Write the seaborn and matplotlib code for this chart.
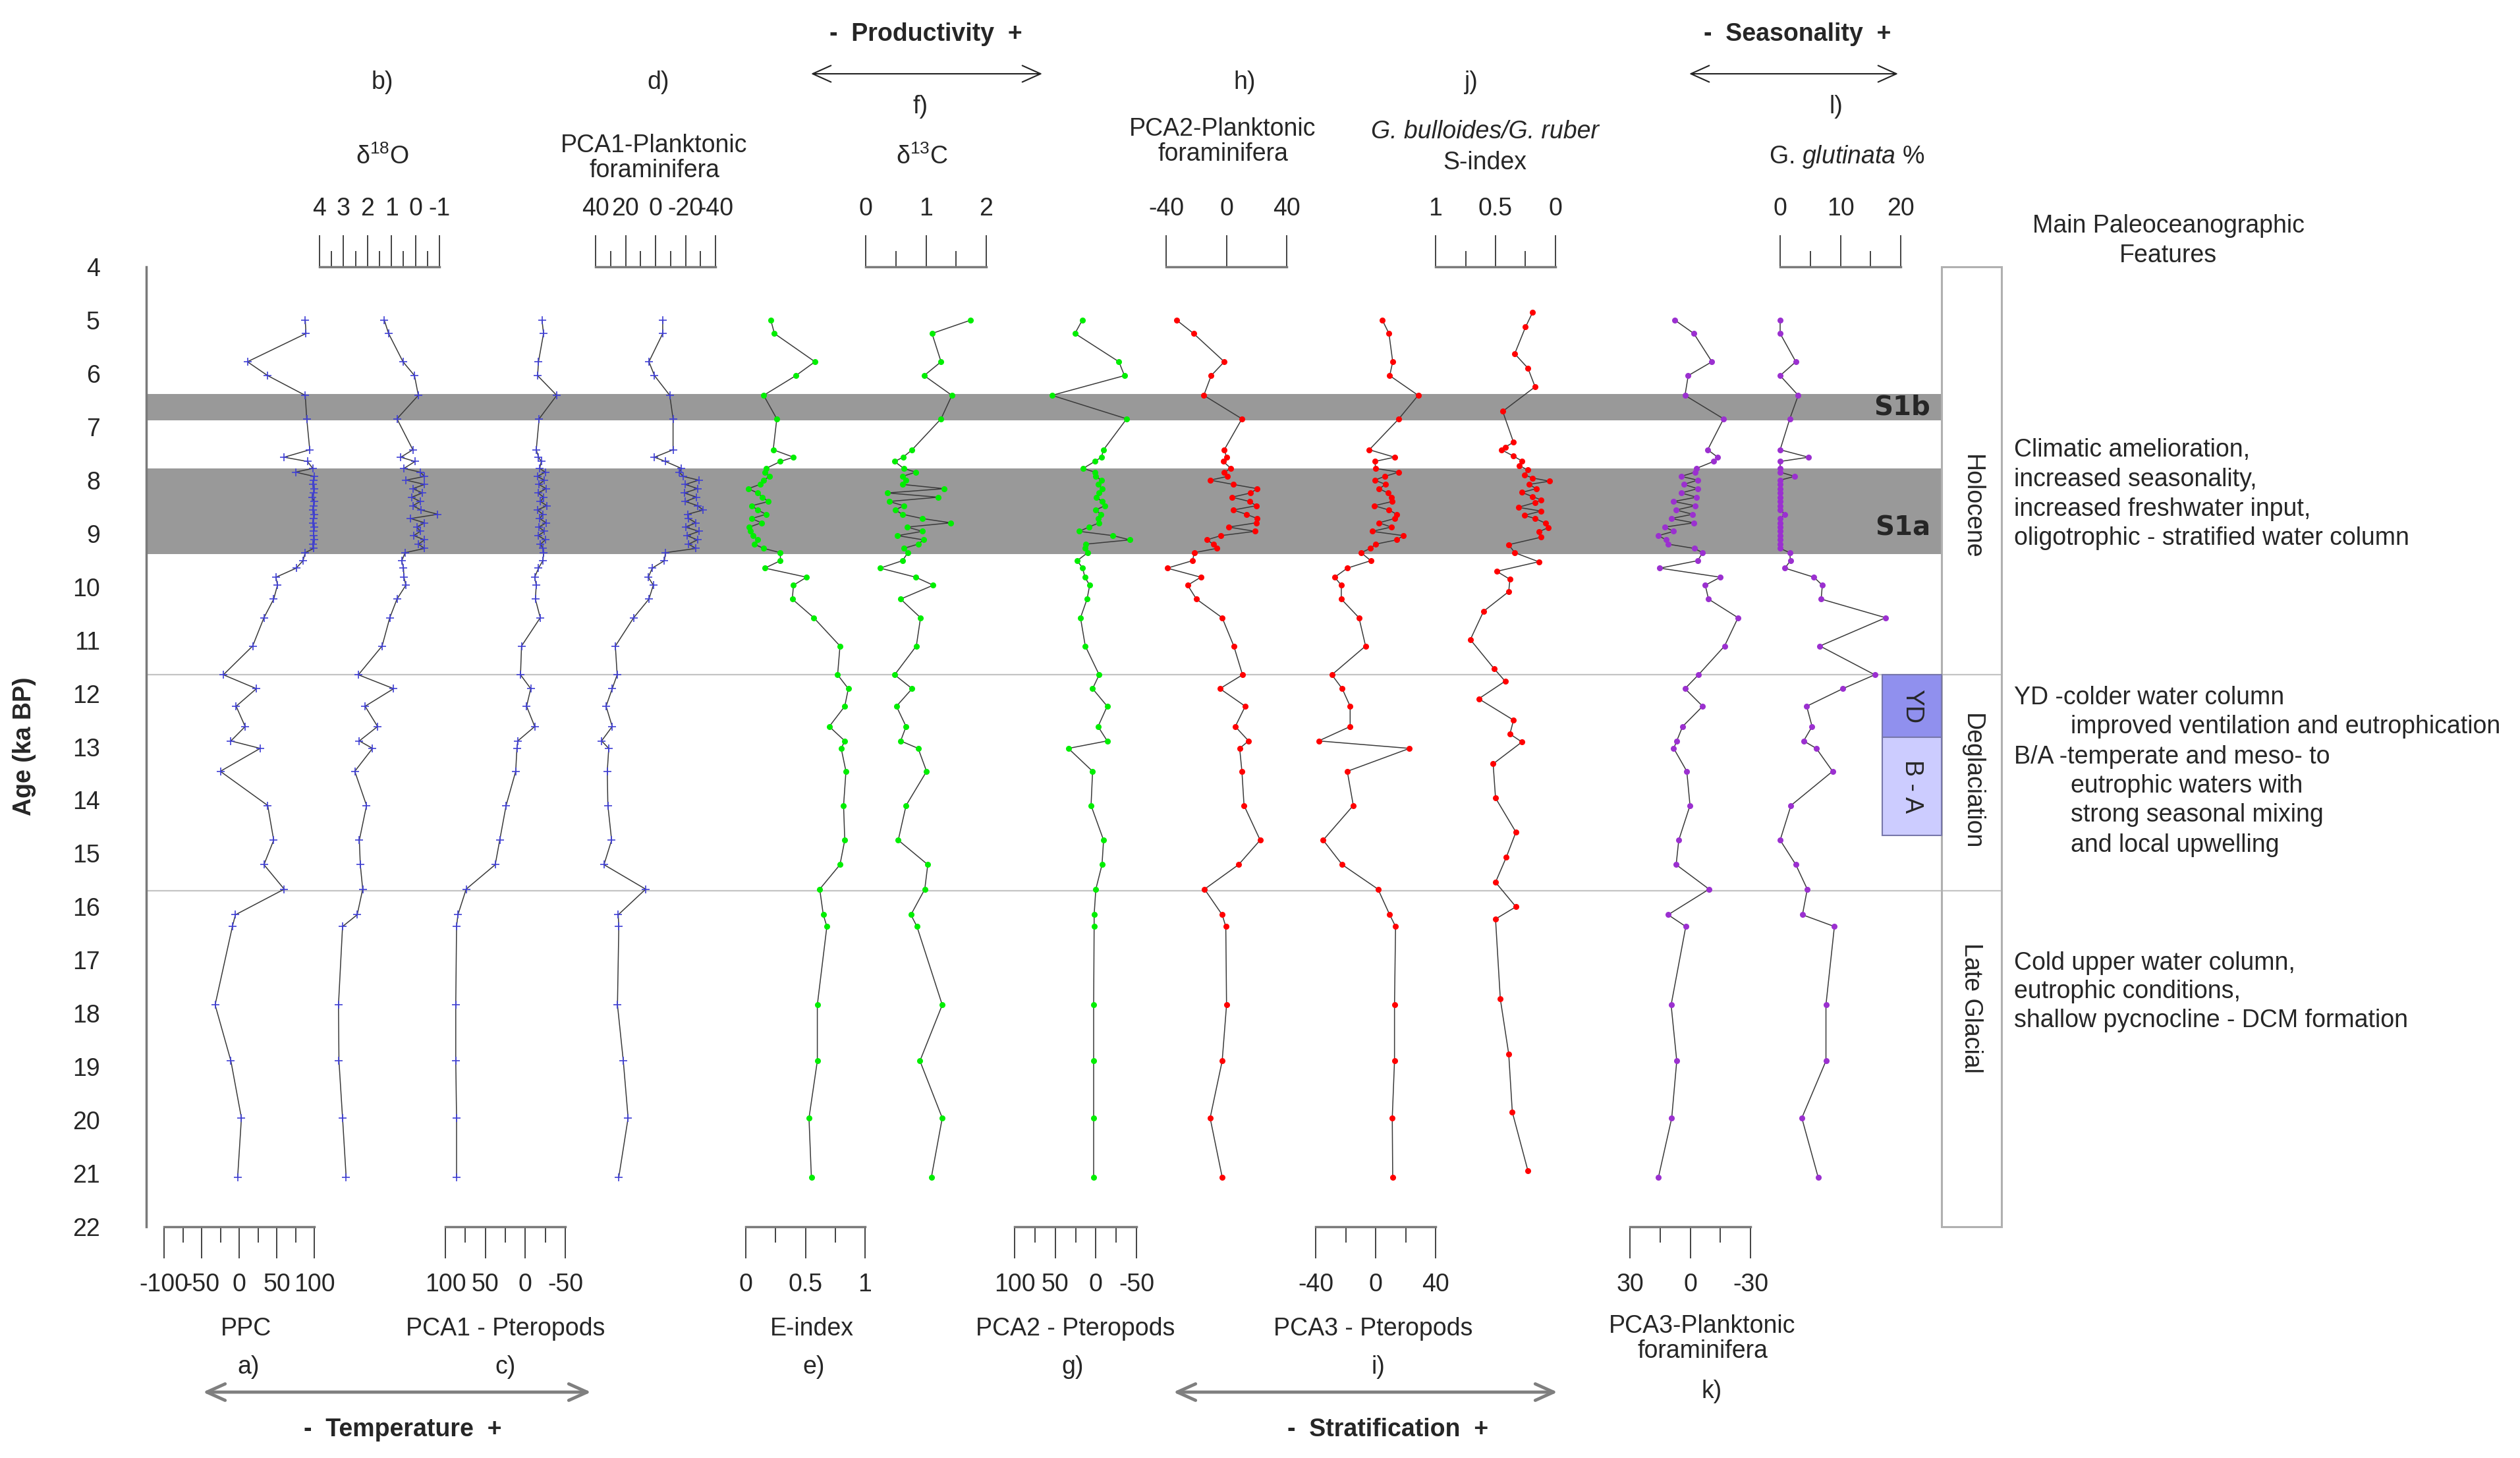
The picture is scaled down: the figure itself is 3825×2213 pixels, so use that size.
import matplotlib
matplotlib.use("Agg")
import matplotlib.pyplot as plt
import seaborn as sns
from matplotlib.patches import Rectangle, FancyArrowPatch
from matplotlib.ticker import FixedLocator, MultipleLocator, FuncFormatter

# sample ages (ka BP) shared by most of the records
ages = [5.0, 5.25, 5.78, 6.04, 6.41, 6.85,
        7.43, 7.57, 7.65,
        7.78, 7.85, 7.93, 8.0, 8.08, 8.16, 8.24, 8.32, 8.4, 8.48,
        8.56, 8.64, 8.72, 8.8, 8.88, 8.96, 9.04, 9.12, 9.2, 9.28,
        9.36,
        9.51, 9.65, 9.82, 9.97, 10.23, 10.58, 11.11,
        11.65, 11.91, 12.24, 12.62, 12.89, 13.03, 13.46,
        14.1, 14.75, 15.21, 15.67, 16.15, 16.37,
        17.84, 18.89, 19.96, 21.07]

ppc = [88, 89, 11, 38, 88, 90,
       94, 60, 91,
       98, 75, 100, 99, 98, 100, 99, 97, 100, 99,
       98, 100, 99, 98, 100, 99, 99, 100, 98, 99,
       88,
       85, 76, 49, 51, 46, 33, 18,
       -21, 23, -4, 8, -11, 28, -25,
       38, 46, 33, 60, -5, -9,
       -32, -11, 3, -2]

d18o = [1.30, 1.12, 0.52, 0.04, -0.12, 0.77,
        0.11, 0.61, 0.02,
        0.48, -0.20, -0.38, 0.39, -0.38, 0.11, -0.29, 0.16, -0.20, 0.11,
        -0.24, -0.93, 0.20, -0.38, -0.06, -0.20, 0.07, -0.38, -0.12, -0.38,
        0.43,
        0.57, 0.50, 0.48, 0.40, 0.77, 1.07, 1.39,
        2.38, 0.91, 2.10, 1.58, 2.34, 1.79, 2.53,
        2.04, 2.34, 2.30, 2.20, 2.43, 3.04,
        3.21, 3.19, 3.04, 2.89]

pca1_ptero = [-20.9, -22.8, -16.5, -15.4, -39.3, -17.3,
              -13.7, -16.5, -20.0,
              -18, -25, -15, -24, -17, -26, -16, -23, -19, -27,
              -15, -22, -18, -26, -17, -24, -16, -25, -19, -22,
              -23,
              -22, -16.5, -11.8, -13.7, -12.6, -18.7, 4.7,
              6.0, -6.8, -1.6, -11.8, 9.4, 10.5, 12.0,
              24, 32, 37.6, 74, 84.3, 86,
              87, 87, 86, 86]

pca1_plank = [-4.8, -4.8, 4.4, 0.7, -9.5, -11.7,
              -11.7, 0.7, -6.6,
              -17.3, -15.8, -18.5, -28.8, -19.9, -28.1, -19.2, -27.4, -19.9, -28.1,
              -31.8, -21.4, -22.1, -27.0, -20.0, -29.0, -21.0, -28.0, -22.0, -27.0,
              -6.6,
              -5.9, 2.2, 4.8, 1.5, 4.4, 14.6, 26.8,
              25.6, 28.9, 33.0, 28.9, 36.0, 31.2, 32.2,
              31.8, 29.3, 34.4, 6.6, 24.9, 24.5,
              25.4, 21.5, 18.3, 24.5]

e_index = [0.21, 0.24, 0.58, 0.42, 0.15, 0.26,
           0.23, 0.40, 0.29,
           0.17, 0.16, 0.20, 0.15, 0.12, 0.02, 0.10, 0.14, 0.19, 0.05,
           0.10, 0.17, 0.05, 0.13, 0.03, 0.04, 0.06, 0.10, 0.07, 0.15,
           0.29,
           0.29, 0.16, 0.51, 0.40, 0.39, 0.57, 0.79,
           0.77, 0.86, 0.83, 0.70, 0.83, 0.80, 0.84,
           0.82, 0.83, 0.79, 0.62, 0.65, 0.68,
           0.60, 0.60, 0.53, 0.55]

d13c = [1.74, 1.10, 1.25, 0.97, 1.43, 1.25,
        0.77, 0.62, 0.48,
        0.63, 0.83, 0.61, 0.67, 0.61, 1.30, 0.36, 1.20, 0.39, 0.63,
        0.49, 0.61, 0.94, 1.41, 0.69, 0.94, 0.53, 0.96, 0.87, 0.63,
        0.70,
        0.61, 0.24, 0.83, 1.12, 0.58, 0.91, 0.84,
        0.48, 0.77, 0.51, 0.67, 0.58, 0.87, 1.01,
        0.67, 0.54, 1.03, 0.98, 0.75, 0.85,
        1.27, 0.90, 1.27, 1.09]

pca2_ptero = [16.7, 25.7, -28.4, -35.2, 54.0, -37.9,
              -9.5, -6.8, 1.3,
              15.7, 1.3, 0.0, -6.8, -2.7, -8.1, -4.1, -0.6, -7.6, -10.8,
              0.0, -6.0, -2.7, -4.1, 8.6, 20.3, -21.0, -41.9, 12.1, 13.5,
              10.0,
              23.0, 16.2, 13.5, 7.6, 10.8, 18.9, 13.0,
              -4.1, 4.0, -14.0, -2.7, -14.0, 33.8, 4.0,
              5.9, -9.5, -7.6, 0.0, 2.1, 2.1,
              2.7, 2.7, 2.7, 2.7]

pca2_plank = [-33.0, -21.8, -1.4, -10.1, -15.0, 10.3,
              -1.4, 0.1, -2.1,
              3.0, -1.4, 0.8, -10.8, 4.5, 20.5, 16.1, 3.7, 15.4, 19.8,
              4.5, 13.2, 20.5, 19.8, 1.5, 19.0, -3.6, -13.0, -8.7, -6.5,
              -21.3,
              -22.5, -39.3, -17.0, -25.7, -19.9, -2.8, 4.9,
              10.7, -4.3, 12.5, 5.9, 14.7, 8.8, 10.3,
              11.7, 22.4, 8.1, -14.5, -2.8, -0.4,
              0.1, -2.8, -10.8, -2.8]

pca3_ptero = [4.5, 8.9, 11.4, 9.4, 28.4, 15.5,
              -4.2, 12.6, -0.6,
              0.1, 15.5, 6.0, -0.6, 6.7, 2.3, 8.2, 10.4, 11.1, -0.9,
              8.9, 14.1, 12.6, 2.3, 10.4, -2.3, 18.5, 14.1, 0.1, -3.5,
              -9.7,
              -3.2, -18.9, -27.3, -22.9, -22.9, -11.1, -6.7,
              -29.2, -22.3, -17.0, -17.0, -38.0, 22.6, -18.9,
              -14.9, -35.0, -22.3, 1.6, 9.4, 13.3,
              12.6, 12.6, 11.1, 11.4]

# the S-index record has its own age model
s_index_ages = [4.85, 5.13, 5.63, 5.9, 6.25, 6.71, 7.29, 7.38, 7.43, 7.55,
                7.64, 7.73, 7.81, 7.9, 7.96, 8.02, 8.08, 8.16, 8.23, 8.31,
                8.37, 8.42, 8.51, 8.58, 8.66, 8.72, 8.81, 8.89, 8.97, 9.07,
                9.21, 9.36, 9.53, 9.71, 9.86, 10.09, 10.46, 10.99, 11.54, 11.77,
                12.1, 12.5, 12.76, 12.91, 13.32, 13.96, 14.6, 15.07, 15.54, 16.0,
                16.23, 17.73, 18.76, 19.85, 20.95]
s_index = [0.19, 0.25, 0.34, 0.23, 0.17, 0.44, 0.35, 0.42, 0.45, 0.35,
           0.28, 0.30, 0.23, 0.26, 0.19, 0.05, 0.22, 0.16, 0.28, 0.19,
           0.12, 0.17, 0.31, 0.12, 0.26, 0.17, 0.08, 0.06, 0.14, 0.12,
           0.39, 0.34, 0.14, 0.49, 0.38, 0.39, 0.60, 0.71, 0.51, 0.42,
           0.64, 0.35, 0.38, 0.28, 0.52, 0.50, 0.33, 0.41, 0.50, 0.33,
           0.50, 0.46, 0.39, 0.36, 0.23]

pca3_plank = [7.6, -1.8, -10.8, 1.0, 2.6, -16.6,
              -8.7, -13.7, -11.6,
              -3.1, -2.4, 4.5, -3.7, 3.2, -3.7, 4.5, -3.1, 8.2, -2.4,
              7.0, -1.2, 9.5, -1.8, 12.6, 8.2, 15.8, 12.0, 11.0, -2.0,
              -6.2,
              -3.7, 15.1, -15.0, -7.5, -9.1, -23.8, -17.1,
              -4.1, 2.6, -6.2, 3.8, 6.7, 8.2, 1.7,
              0.1, 5.7, 7.0, -9.4, 11.0, 2.2,
              9.5, 6.7, 9.2, 15.8]

glutinata = [0.0, 0.0, 2.6, 0.0, 3.0, 1.6,
             0.0, 4.7, 0.0,
             0.0, 0.0, 2.4, 0.0, 0.0, 0.0, 0.0, 0.0, 0.0, 0.0,
             0.0, 0.8, 0.0, 0.0, 0.0, 0.0, 0.0, 0.0, 0.0, 0.0,
             1.6,
             1.7, 0.8, 5.6, 7.0, 6.8, 17.5, 6.6,
             15.7, 10.4, 4.4, 5.3, 3.9, 6.0, 8.7,
             1.8, 0.0, 2.6, 4.5, 3.7, 9.0,
             7.6, 7.6, 3.6, 6.3]

# sapropel layers, zones and events (ka BP)
sapropels = ["S1b", "S1a"]
sapropel_top = [6.38, 7.78]
sapropel_base = [6.88, 9.39]
sapropel_label_age = [6.64, 8.9]
zone_limits = [11.65, 15.7]
zones = ["Holocene", "Deglaciation", "Late Glacial"]
zone_label_age = [8.5, 13.65, 17.9]
events = ["YD", "B - A"]
event_top = [11.65, 12.82]
event_base = [12.82, 14.66]
event_colors = ["#9090ee", "#ccccff"]

W, H = 3825, 2213
FS = 27
BLUE, GREEN, RED, PURPLE = "#3f3fd6", "#00ee00", "#ff0000", "#9b30d0"

sns.set_style("white")
plt.rcParams["font.family"] = ["Liberation Sans", "DejaVu Sans"]
plt.rcParams["mathtext.fontset"] = "custom"
plt.rcParams["mathtext.rm"] = "Liberation Sans"
plt.rcParams["mathtext.it"] = "Liberation Sans:italic"
plt.rcParams["axes.unicode_minus"] = False


def fx(x):
    return x / W


def fy(y):
    return 1 - y / H


fig = plt.figure(figsize=(W / 100, H / 100), dpi=100)
fig.patch.set_facecolor("white")

Y0, Y1 = 405, 1862          # pixel rows of 4 and 22 ka
LEFT, RIGHT = 222, 3038     # y axis and right edge of the zone box
BOX_L = 2947
EV_L = 2857

# background axes: age axis, sapropels, zones
base = fig.add_axes([fx(LEFT), fy(Y1), (RIGHT - LEFT) / W, (Y1 - Y0) / H], zorder=0)
base.set_xlim(LEFT, RIGHT)
base.set_ylim(22, 4)
for s in ["top", "right", "bottom"]:
    base.spines[s].set_visible(False)
base.spines["left"].set_color("#7a7a7a")
base.spines["left"].set_linewidth(2.5)
base.set_xticks([])
base.set_yticks(range(4, 23))
base.yaxis.set_minor_locator(MultipleLocator(0.2))
base.tick_params(axis="y", which="major", direction="out", length=34.5, width=1.2,
                 color="#222222", pad=16, labelsize=FS)
base.tick_params(axis="y", which="minor", direction="out", length=17, width=1.2, color="#222222")
base.patch.set_visible(False)

band_frac = (BOX_L - LEFT) / (RIGHT - LEFT)
for name, top, bot, lab in zip(sapropels, sapropel_top, sapropel_base, sapropel_label_age):
    base.axhspan(top, bot, xmin=0, xmax=band_frac, color="#999999", lw=0, zorder=0)
    base.text(2930, lab, name, ha="right", va="center", fontsize=29,
              fontweight="bold", family="DejaVu Sans", zorder=3)

for z in zone_limits:
    base.axhline(z, color="#c4c4c4", lw=1.6, zorder=1)

base.add_patch(Rectangle((BOX_L, 4), RIGHT - BOX_L, 18, fill=False, ec="#b0b0b0",
                         lw=2.2, clip_on=False, zorder=2))
for name, a in zip(zones, zone_label_age):
    base.text((BOX_L + RIGHT) / 2, a, name, rotation=270, ha="center", va="center", fontsize=FS)

for name, top, bot, c in zip(events, event_top, event_base, event_colors):
    base.add_patch(Rectangle((EV_L, top), BOX_L - EV_L, bot - top, fc=c, ec="#7777aa",
                             lw=1.5, zorder=2))
    base.text((EV_L + BOX_L) / 2, (top + bot) / 2, name, rotation=270, ha="center",
              va="center", fontsize=FS, zorder=3)

fig.text(fx(37), fy(1133), "Age (ka BP)", rotation=90, ha="center", va="center",
         fontsize=FS, fontweight="bold")

columns = [
    dict(vals=ppc, age=ages, x=(249, 477), lim=(-100, 100), major=[-100, -50, 0, 50, 100],
         minor=[-75, -25, 25, 75], side="bottom", color=BLUE, marker="+",
         name="PPC", name_xy=(373, 2017), letter="a)", letter_xy=(377, 2075)),
    dict(vals=d18o, age=ages, x=(485, 667), lim=(4, -1), major=[4, 3, 2, 1, 0, -1],
         minor=[3.5, 2.5, 1.5, 0.5, -0.5], side="top", color=BLUE, marker="+",
         name="δ$^{18}$O", name_xy=(580, 238), letter="b)", letter_xy=(580, 125)),
    dict(vals=pca1_ptero, age=ages, x=(676, 858), lim=(100, -50), major=[100, 50, 0, -50],
         minor=[75, 25, -25], side="bottom", color=BLUE, marker="+",
         name="PCA1 - Pteropods", name_xy=(767, 2017), letter="c)", letter_xy=(767, 2075)),
    dict(vals=pca1_plank, age=ages, x=(904, 1086), lim=(40, -40), major=[40, 20, 0, -20, -40],
         minor=[30, 10, -10, -30], side="top", color=BLUE, marker="+",
         name="PCA1-Planktonic\nforaminifera", name_xy=(993, 240), letter="d)", letter_xy=(999, 125)),
    dict(vals=e_index, age=ages, x=(1132, 1313), lim=(0, 1), major=[0, 0.5, 1],
         minor=[0.25, 0.75], side="bottom", color=GREEN, marker="o",
         name="E-index", name_xy=(1232, 2017), letter="e)", letter_xy=(1235, 2075)),
    dict(vals=d13c, age=ages, x=(1314, 1497), lim=(0, 2), major=[0, 1, 2],
         minor=[0.5, 1.5], side="top", color=GREEN, marker="o",
         name="δ$^{13}$C", name_xy=(1400, 238), letter="f)", letter_xy=(1397, 162)),
    dict(vals=pca2_ptero, age=ages, x=(1540, 1725), lim=(100, -50), major=[100, 50, 0, -50],
         minor=[75, 25, -25], side="bottom", color=GREEN, marker="o",
         name="PCA2 - Pteropods", name_xy=(1632, 2017), letter="g)", letter_xy=(1628, 2075)),
    dict(vals=pca2_plank, age=ages, x=(1770, 1953), lim=(-40, 40), major=[-40, 0, 40],
         minor=[], side="top", color=RED, marker="o",
         name="PCA2-Planktonic\nforaminifera", name_xy=(1856, 215), letter="h)", letter_xy=(1889, 125)),
    dict(vals=pca3_ptero, age=ages, x=(1997, 2179), lim=(-40, 40), major=[-40, 0, 40],
         minor=[-20, 20], side="bottom", color=RED, marker="o",
         name="PCA3 - Pteropods", name_xy=(2084, 2017), letter="i)", letter_xy=(2092, 2075)),
    dict(vals=s_index, age=s_index_ages, x=(2179, 2361), lim=(1, 0), major=[1, 0.5, 0],
         minor=[0.75, 0.25], side="top", color=RED, marker="o",
         name=None, name_xy=None, letter="j)", letter_xy=(2233, 125)),
    dict(vals=pca3_plank, age=ages, x=(2474, 2657), lim=(30, -30), major=[30, 0, -30],
         minor=[15, -15], side="bottom", color=PURPLE, marker="o",
         name="PCA3-Planktonic\nforaminifera", name_xy=(2584, 2032), letter="k)", letter_xy=(2598, 2112)),
    dict(vals=glutinata, age=ages, x=(2702, 2885), lim=(0, 20), major=[0, 10, 20],
         minor=[5, 15], side="top", color=PURPLE, marker="o",
         name="G. $\\mathit{glutinata}$ %", name_xy=(2803, 238), letter="l)", letter_xy=(2787, 162)),
]

for col in columns:
    x0, x1 = col["x"]
    ax = fig.add_axes([fx(x0), fy(Y1), (x1 - x0) / W, (Y1 - Y0) / H], zorder=2)
    ax.patch.set_visible(False)
    if col["marker"] == "+":
        mk = dict(marker="+", markersize=8, markeredgewidth=1.2,
                  markeredgecolor=col["color"], markerfacecolor=col["color"])
    else:
        mk = dict(marker="o", markersize=6.5, markeredgewidth=0,
                  markeredgecolor=col["color"], markerfacecolor=col["color"])
    sns.lineplot(x=col["vals"], y=col["age"], sort=False, estimator=None, ax=ax,
                 color="#3a3a3a", lw=1.1, clip_on=False, **mk)
    ax.set_xlim(col["lim"])
    ax.set_ylim(22, 4)
    ax.set_xlabel("")
    ax.set_ylabel("")
    ax.set_yticks([])
    for s in ax.spines.values():
        s.set_visible(False)
    side = col["side"]
    ax.spines[side].set_visible(True)
    ax.spines[side].set_color("#7a7a7a")
    ax.spines[side].set_linewidth(2.5)
    ax.xaxis.set_ticks_position(side)
    ax.set_xticks(col["major"])
    ax.xaxis.set_minor_locator(FixedLocator(col["minor"]))
    ax.xaxis.set_major_formatter(FuncFormatter(lambda v, p: f"{v:g}"))
    ax.tick_params(axis="x", which="major", direction="out", length=34.5, width=1.2,
                   color="#222222", pad=16, labelsize=FS)
    ax.tick_params(axis="x", which="minor", direction="out", length=17, width=1.2,
                   color="#222222")
    if col["name"]:
        nx, ny = col["name_xy"]
        fig.text(fx(nx), fy(ny), col["name"], ha="center", va="center", fontsize=FS,
                 linespacing=1.1)
    lx, ly = col["letter_xy"]
    fig.text(fx(lx), fy(ly), col["letter"], ha="center", va="center", fontsize=FS)

# S-index title has an italic first line
fig.text(fx(2254), fy(200), "G. bulloides/G. ruber", ha="center", va="center",
         fontsize=FS, style="italic")
fig.text(fx(2254), fy(247), "S-index", ha="center", va="center", fontsize=FS)

fig.text(fx(3291), fy(343), "Main Paleoceanographic", ha="center", va="center", fontsize=FS)
fig.text(fx(3291), fy(388), "Features", ha="center", va="center", fontsize=FS)

notes = [
    ("Climatic amelioration,", 3057, 683),
    ("increased seasonality,", 3057, 728),
    ("increased freshwater input,", 3057, 773),
    ("oligotrophic - stratified water column", 3057, 817),
    ("YD -colder water column", 3057, 1059),
    ("improved ventilation and eutrophication", 3143, 1103),
    ("B/A -temperate and meso- to", 3057, 1149),
    ("eutrophic waters with", 3143, 1193),
    ("strong seasonal mixing", 3143, 1237),
    ("and local upwelling", 3143, 1283),
    ("Cold upper water column,", 3057, 1462),
    ("eutrophic conditions,", 3057, 1505),
    ("shallow pycnocline - DCM formation", 3057, 1549),
]
for txt, x, y in notes:
    fig.text(fx(x), fy(y), txt, ha="left", va="center", fontsize=FS)


def arrow(x0, x1, y, color, lw):
    fig.add_artist(FancyArrowPatch((fx(x0), fy(y)), (fx(x1), fy(y)),
                                   transform=fig.transFigure,
                                   arrowstyle="<->,head_length=20,head_width=9",
                                   mutation_scale=1, shrinkA=0, shrinkB=0,
                                   color=color, lw=lw))


arrow(1231, 1582, 112, "#222222", 1.5)
arrow(2564, 2881, 112, "#222222", 1.5)
arrow(308, 897, 2113, "#7f7f7f", 3.5)
arrow(1781, 2364, 2113, "#7f7f7f", 3.5)

for txt, x, y in [("-  Productivity  +", 1405, 52), ("-  Seasonality  +", 2728, 52),
                  ("-  Temperature  +", 611, 2170), ("-  Stratification  +", 2107, 2170)]:
    fig.text(fx(x), fy(y), txt, ha="center", va="center", fontsize=FS, fontweight="bold")

fig.savefig("out.png", dpi=100, facecolor="white")
